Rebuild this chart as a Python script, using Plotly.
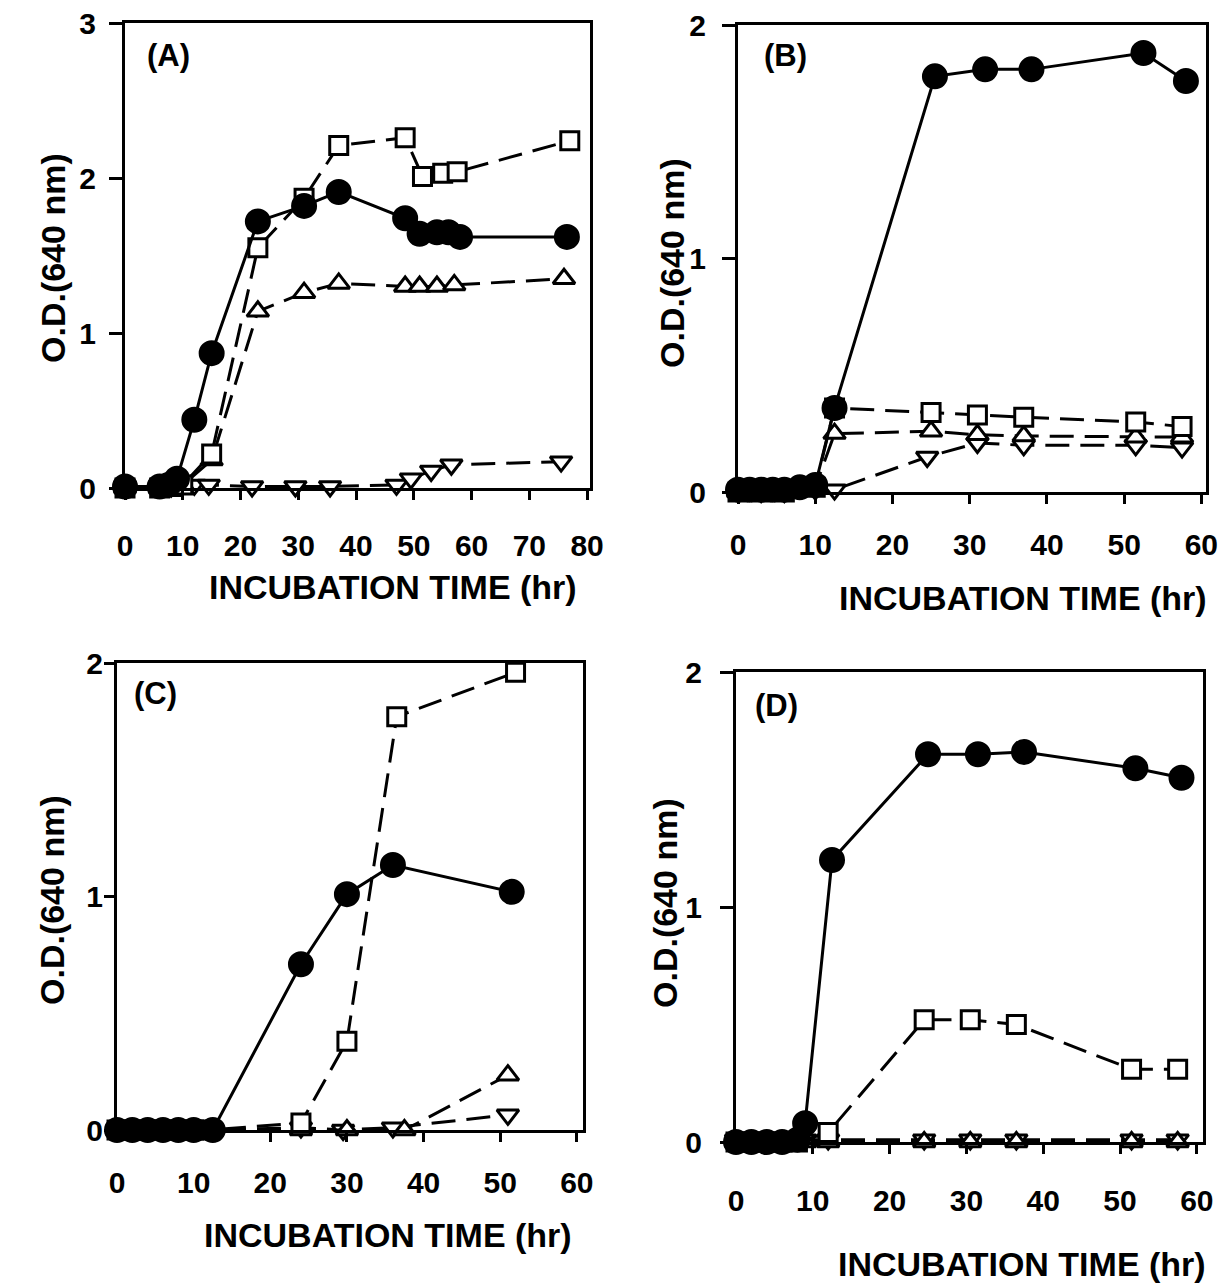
import plotly.graph_objects as go

# ---------------- Panel A ----------------
A_circle_t = [0, 6, 7.5, 9, 12, 15, 23, 31, 37, 48.5, 51, 54, 56, 58, 76.5]
A_circle_y = [0.01, 0.01, 0.02, 0.06, 0.44, 0.87, 1.72, 1.82, 1.91, 1.74, 1.64, 1.65, 1.65, 1.62, 1.62]
A_square_t = [0, 6, 8, 10, 15, 23, 31, 37, 48.5, 51.5, 55, 57.5, 77]
A_square_y = [0.0, 0.0, 0.01, 0.02, 0.22, 1.55, 1.87, 2.21, 2.26, 2.01, 2.03, 2.04, 2.24]
A_triup_t = [0, 6, 8, 10, 15, 23, 31, 37, 48.5, 51, 54, 57, 76]
A_triup_y = [0.0, 0.0, 0.01, 0.02, 0.18, 1.14, 1.26, 1.32, 1.30, 1.30, 1.30, 1.31, 1.35]
A_tridn_t = [0, 6, 8, 12, 14.5, 22, 29.5, 35.5, 47, 49.5, 53, 56.5, 75.5]
A_tridn_y = [0.01, 0.01, 0.01, 0.02, 0.02, 0.01, 0.01, 0.01, 0.02, 0.06, 0.11, 0.15, 0.17]

# ---------------- Panel B ----------------
B_circle_t = [0, 1.5, 3, 4.5, 6, 8, 10, 12.5, 25.5, 32, 38, 52.5, 58]
B_circle_y = [0.01, 0.01, 0.01, 0.01, 0.01, 0.02, 0.03, 0.36, 1.78, 1.81, 1.81, 1.88, 1.76]
B_square_t = [0, 3, 6, 10, 12.5, 25, 31, 37, 51.5, 57.5]
B_square_y = [0.0, 0.0, 0.0, 0.02, 0.36, 0.34, 0.33, 0.32, 0.30, 0.28]
B_triup_t = [0, 3, 6, 10, 12.5, 25, 31, 37, 51.5, 57.5]
B_triup_y = [0.0, 0.0, 0.0, 0.02, 0.25, 0.26, 0.245, 0.24, 0.235, 0.235]
B_tridn_t = [0, 3, 6, 10, 12.5, 24.5, 31, 37, 51.5, 57.5]
B_tridn_y = [0.0, 0.0, 0.0, 0.01, 0.01, 0.15, 0.21, 0.20, 0.20, 0.19]

# ---------------- Panel C ----------------
C_circle_t = [0, 2, 4, 6, 8, 10, 12.5, 24, 30, 36, 51.5]
C_circle_y = [0.0, 0.0, 0.0, 0.0, 0.0, 0.0, 0.0, 0.71, 1.01, 1.135, 1.02]
C_square_t = [0, 2, 4, 6, 8, 10, 12, 24, 30, 36.5, 52]
C_square_y = [0.0, 0.0, 0.0, 0.0, 0.0, 0.0, 0.0, 0.03, 0.38, 1.77, 1.96]
C_triup_t = [0, 2, 4, 6, 8, 10, 12, 24, 30, 37.5, 51]
C_triup_y = [0.0, 0.0, 0.0, 0.0, 0.0, 0.0, 0.0, 0.0, 0.0, 0.0, 0.235]
C_tridn_t = [0, 2, 4, 6, 8, 10, 12, 24, 29.5, 36, 51]
C_tridn_y = [0.0, 0.0, 0.0, 0.0, 0.0, 0.0, 0.0, 0.01, 0.0, 0.01, 0.065]

# ---------------- Panel D ----------------
D_circle_t = [0, 2, 4, 6, 8, 9, 12.5, 25, 31.5, 37.5, 52, 58]
D_circle_y = [0.0, 0.0, 0.0, 0.0, 0.01, 0.08, 1.20, 1.65, 1.65, 1.66, 1.59, 1.55]
D_square_t = [0, 2, 4, 6, 8, 12, 24.5, 30.5, 36.5, 51.5, 57.5]
D_square_y = [0.0, 0.0, 0.0, 0.0, 0.0, 0.04, 0.52, 0.52, 0.50, 0.31, 0.31]
D_triup_t = [0, 2, 4, 6, 9, 12, 24.5, 30.5, 36.5, 51.5, 57.5]
D_triup_y = [0.0, 0.0, 0.0, 0.0, 0.0, 0.0, 0.0, 0.0, 0.0, 0.0, 0.0]
D_tridn_t = [0, 2, 4, 6, 9, 12, 24.5, 30.5, 36.5, 51.5, 57.5]
D_tridn_y = [0.01, 0.01, 0.01, 0.01, 0.01, 0.01, 0.01, 0.01, 0.01, 0.01, 0.01]

A_xticks = [0, 10, 20, 30, 40, 50, 60, 70, 80]
BCD_xticks = [0, 10, 20, 30, 40, 50, 60]
A_yticks = [0, 1, 2, 3]
BCD_yticks = [0, 1, 2]

panel_labels = ["(A)", "(B)", "(C)", "(D)"]
x_title = "INCUBATION TIME (hr)"
y_title = "O.D.(640 nm)"

W, H = 1225, 1285
FONT = "Liberation Sans, Arial, Helvetica, sans-serif"


def fx(px):
    return px / W


def fy(py):
    return 1 - py / H


fig = go.Figure()

DASH = "24px,11px"
STYLES = {
    "circle": dict(dash="solid", symbol="circle", size=23, fill="black"),
    "square": dict(dash=DASH, symbol="square", size=18, fill="white"),
    "triup": dict(dash=DASH, symbol="triangle-up", size=19, fill="white"),
    "tridn": dict(dash=DASH, symbol="triangle-down", size=19, fill="white"),
}


def add(t, y, kind, xa, ya):
    s = STYLES[kind]
    fig.add_trace(go.Scatter(
        x=t, y=y, xaxis=xa, yaxis=ya, mode="lines+markers",
        line=dict(color="black", width=3, dash=s["dash"]),
        marker=dict(symbol=s["symbol"], size=s["size"], color=s["fill"],
                    line=dict(color="black", width=3)),
        cliponaxis=False, showlegend=False, hoverinfo="x+y",
    ))


panels = [
    ("x", "y", [(A_tridn_t, A_tridn_y, "tridn"), (A_triup_t, A_triup_y, "triup"),
                (A_square_t, A_square_y, "square"), (A_circle_t, A_circle_y, "circle")]),
    ("x2", "y2", [(B_tridn_t, B_tridn_y, "tridn"), (B_triup_t, B_triup_y, "triup"),
                  (B_square_t, B_square_y, "square"), (B_circle_t, B_circle_y, "circle")]),
    ("x3", "y3", [(C_tridn_t, C_tridn_y, "tridn"), (C_triup_t, C_triup_y, "triup"),
                  (C_square_t, C_square_y, "square"), (C_circle_t, C_circle_y, "circle")]),
    ("x4", "y4", [(D_tridn_t, D_tridn_y, "tridn"), (D_triup_t, D_triup_y, "triup"),
                  (D_square_t, D_square_y, "square"), (D_circle_t, D_circle_y, "circle")]),
]
for xa, ya, series in panels:
    for t, y, kind in series:
        add(t, y, kind, xa, ya)

tickfont = dict(family=FONT, size=30, color="black", weight="bold")


def xaxis(domain, rng, ticks, anchor, standoff):
    return dict(domain=domain, range=rng, tickvals=ticks, ticktext=[str(v) for v in ticks],
                anchor=anchor, showline=True, linewidth=3, linecolor="black", mirror=True,
                ticks="outside", ticklen=9, tickwidth=3, tickcolor="black",
                showgrid=False, zeroline=False, tickfont=tickfont,
                ticklabelstandoff=standoff, fixedrange=True)


def yaxis(domain, rng, ticks, anchor, standoff, ticklen=13):
    return dict(domain=domain, range=rng, tickvals=ticks, ticktext=[str(v) for v in ticks],
                anchor=anchor, showline=True, linewidth=3, linecolor="black", mirror=True,
                ticks="outside", ticklen=ticklen, tickwidth=3, tickcolor="black",
                showgrid=False, zeroline=False, tickfont=tickfont,
                ticklabelstandoff=standoff, fixedrange=True)


layout = dict(
    width=W, height=H, margin=dict(l=0, r=0, t=0, b=0, pad=0, autoexpand=False),
    paper_bgcolor="white", plot_bgcolor="white", showlegend=False,
    font=dict(family=FONT, color="black"),
    xaxis=xaxis([fx(125), fx(590)], [0, 80.5], A_xticks, "y", 20),
    yaxis=yaxis([fy(488), fy(23)], [0, 3], A_yticks, "x", 7),
    xaxis2=xaxis([fx(738), fx(1206)], [0, 60.6], BCD_xticks, "y2", 15),
    yaxis2=yaxis([fy(492), fy(25)], [0, 2], BCD_yticks, "x2", 10),
    xaxis3=xaxis([fx(117), fx(583)], [0, 60.8], BCD_xticks, "y3", 15),
    yaxis3=yaxis([fy(1130), fy(663)], [0, 2], BCD_yticks, "x3", -5, ticklen=10),
    xaxis4=xaxis([fx(736), fx(1203)], [0, 60.8], BCD_xticks, "y4", 21),
    yaxis4=yaxis([fy(1142), fy(672)], [0, 2], BCD_yticks, "x4", 12),
)
fig.update_layout(**layout)

title_font = dict(family=FONT, size=34, color="black", weight="bold")
ytitle_font = dict(family=FONT, size=34, color="black", weight="bold")
label_font = dict(family=FONT, size=31, color="black", weight="bold")
ann = []
# x titles
for (cx, cy) in [(393, 587), (1023, 598), (388, 1235), (1022, 1264)]:
    ann.append(dict(text=x_title, x=fx(cx), y=fy(cy), xref="paper", yref="paper",
                    xanchor="center", yanchor="middle", showarrow=False, font=title_font))
# y titles
for (cx, cy) in [(53, 258), (672, 263), (52, 900), (665, 903)]:
    ann.append(dict(text=y_title, x=fx(cx), y=fy(cy), xref="paper", yref="paper",
                    xanchor="center", yanchor="middle", showarrow=False, textangle=-90,
                    font=ytitle_font))
# panel labels
for lab, (cx, cy) in zip(panel_labels, [(168, 56), (785, 56), (155, 693), (777, 705)]):
    ann.append(dict(text=lab, x=fx(cx), y=fy(cy), xref="paper", yref="paper",
                    xanchor="center", yanchor="middle", showarrow=False, font=label_font))
fig.update_layout(annotations=ann)

fig.write_html("out.html", config={"displayModeBar": False},
               post_script="document.body.style.margin='0';document.body.style.overflow='hidden';")
